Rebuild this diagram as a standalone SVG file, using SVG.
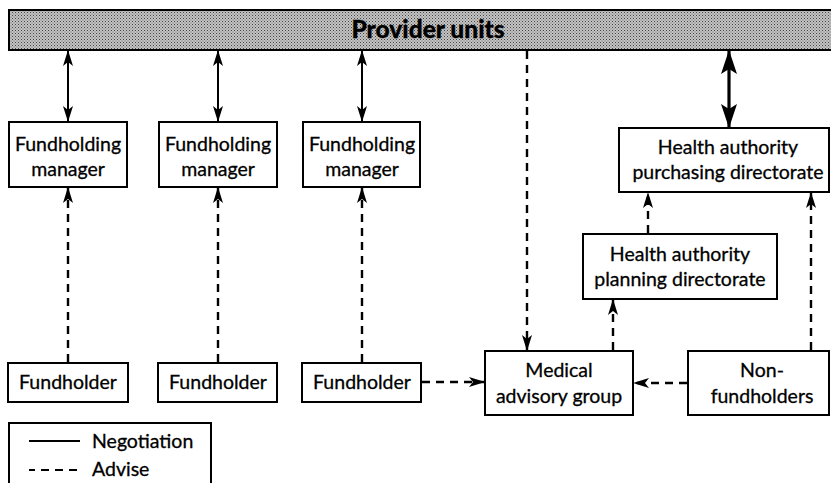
<svg xmlns="http://www.w3.org/2000/svg" width="831" height="483" viewBox="0 0 831 483">
<style>
  .box{fill:#fff;stroke:#000;stroke-width:2}
  .t{font-family:Lato,"Open Sans","Liberation Sans",sans-serif;font-size:19.5px;fill:#000;text-anchor:middle;stroke:#000;stroke-width:0.3}
  .neg{stroke:#000;stroke-width:2;fill:none}
  .negb{stroke:#000;stroke-width:3.2;fill:none}
  .adv{stroke:#000;stroke-width:2.4;fill:none;stroke-dasharray:8 6}
</style>
<defs>
  <pattern id="stip" width="3" height="3" patternUnits="userSpaceOnUse">
    <rect width="3" height="3" fill="#c4c4c4"/>
    <rect x="0" y="0" width="1" height="1" fill="#444"/>
    <rect x="1.5" y="1.5" width="1" height="1" fill="#666"/>
  </pattern>
  <marker id="ah" viewBox="0 0 16 12" refX="15" refY="6" markerWidth="16" markerHeight="12" markerUnits="userSpaceOnUse" orient="auto-start-reverse">
    <path d="M0,1 L16,6 L0,11 L4,6 Z" fill="#000"/>
  </marker>
  <marker id="ahb" viewBox="0 0 24 18" refX="23" refY="9" markerWidth="24" markerHeight="18" markerUnits="userSpaceOnUse" orient="auto-start-reverse">
    <path d="M0,1 L24,9 L0,17 L5,9 Z" fill="#000"/>
  </marker>
</defs>

<g id="provider">
  <rect x="9" y="10" width="830" height="40" fill="url(#stip)" stroke="#000" stroke-width="2"/>
  <text x="428" y="38" class="t" style="font-weight:900;font-size:24.5px">Provider units</text>
</g>

<g id="fm1"><rect class="box" x="9" y="122" width="118" height="65"/><text class="t" x="68" y="151">Fundholding</text><text class="t" x="68" y="176">manager</text></g>
<g id="fm2"><rect class="box" x="159" y="122" width="118" height="65"/><text class="t" x="218" y="151">Fundholding</text><text class="t" x="218" y="176">manager</text></g>
<g id="fm3"><rect class="box" x="303" y="122" width="117" height="65"/><text class="t" x="362" y="151">Fundholding</text><text class="t" x="362" y="176">manager</text></g>

<g id="fh1"><rect class="box" x="8" y="363" width="120" height="39"/><text class="t" x="68" y="389">Fundholder</text></g>
<g id="fh2"><rect class="box" x="158" y="363" width="119" height="39"/><text class="t" x="218" y="389">Fundholder</text></g>
<g id="fh3"><rect class="box" x="302" y="363" width="119" height="39"/><text class="t" x="362" y="389">Fundholder</text></g>

<g id="purchasing"><rect class="box" x="619" y="128" width="210" height="64"/><text class="t" x="728" y="154">Health authority</text><text class="t" x="728" y="179">purchasing directorate</text></g>
<g id="planning"><rect class="box" x="583" y="234" width="194" height="65"/><text class="t" x="680" y="261">Health authority</text><text class="t" x="680" y="286">planning directorate</text></g>
<g id="medical"><rect class="box" x="485" y="351" width="148" height="64"/><text class="t" x="559" y="377">Medical</text><text class="t" x="559" y="403">advisory group</text></g>
<g id="nonfund"><rect class="box" x="688" y="351" width="141" height="64"/><text class="t" x="762" y="377">Non-</text><text class="t" x="762" y="403">fundholders</text></g>

<g id="legend">
  <rect class="box" x="9" y="423" width="202" height="70"/>
  <line x1="29" y1="441" x2="80" y2="441" stroke="#000" stroke-width="2"/>
  <text class="t" x="92" y="448" style="text-anchor:start">Negotiation</text>
  <line x1="29" y1="470" x2="80" y2="470" stroke="#000" stroke-width="2" stroke-dasharray="8 6" stroke-dashoffset="2"/>
  <text class="t" x="92" y="476" style="text-anchor:start">Advise</text>
</g>

<g id="connectors">
  <line class="neg" x1="68" y1="51" x2="68" y2="121" marker-start="url(#ah)" marker-end="url(#ah)"/>
  <line class="neg" x1="218" y1="51" x2="218" y2="121" marker-start="url(#ah)" marker-end="url(#ah)"/>
  <line class="neg" x1="362" y1="51" x2="362" y2="121" marker-start="url(#ah)" marker-end="url(#ah)"/>
  <line class="negb" x1="729" y1="51" x2="729" y2="127" marker-start="url(#ahb)" marker-end="url(#ahb)"/>

  <line class="adv" x1="68" y1="362" x2="68" y2="188" marker-end="url(#ah)"/>
  <line class="adv" x1="218" y1="362" x2="218" y2="188" marker-end="url(#ah)"/>
  <line class="adv" x1="362" y1="362" x2="362" y2="188" marker-end="url(#ah)"/>
  <line class="adv" x1="422" y1="382" x2="484" y2="382" marker-end="url(#ah)"/>
  <line class="adv" x1="527" y1="51" x2="527" y2="350" marker-end="url(#ah)"/>
  <line class="adv" x1="613" y1="350" x2="613" y2="300" marker-end="url(#ah)"/>
  <line class="adv" x1="648" y1="233" x2="648" y2="193" marker-end="url(#ah)"/>
  <line class="adv" x1="811" y1="350" x2="811" y2="193" marker-end="url(#ah)"/>
  <line class="adv" x1="687" y1="383" x2="634" y2="383" marker-end="url(#ah)"/>
</g>
</svg>
